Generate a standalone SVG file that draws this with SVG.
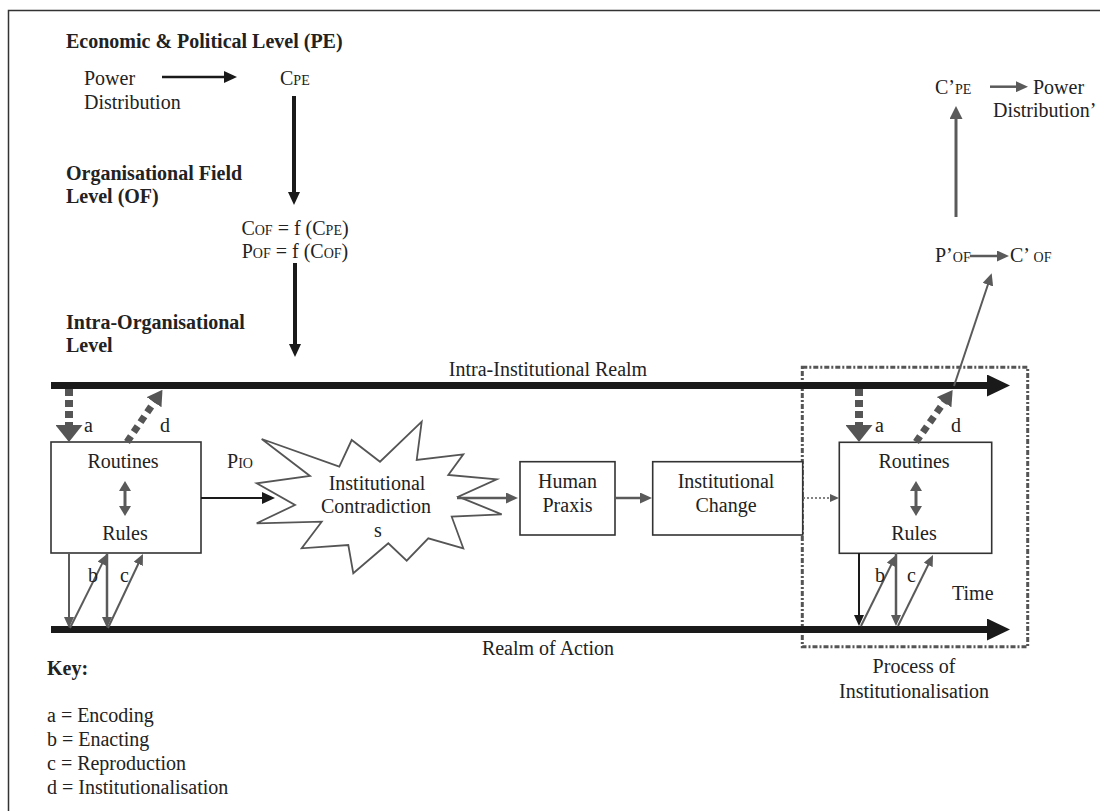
<svg xmlns="http://www.w3.org/2000/svg" width="1108" height="811" viewBox="0 0 1108 811">
<style>
text{font-family:"Liberation Serif","Times New Roman",serif;font-size:20px;fill:#222}
.b{font-weight:bold}
.m{text-anchor:middle}
.sub{font-size:14px}
.box{fill:#fff;stroke:#333;stroke-width:1.6}
.realm{stroke:#1a1a1a;stroke-width:7;fill:none}
.blk{stroke:#1a1a1a;fill:none}
.gry{stroke:#5a5a5a;fill:none}
.dash{stroke:#555;fill:none;stroke-width:8;stroke-dasharray:7 4}
.dashd{stroke:#555;fill:none;stroke-width:7;stroke-dasharray:7 5}
</style>
<defs>
<marker id="hbig" markerUnits="userSpaceOnUse" orient="auto" markerWidth="24" markerHeight="22" refX="1" refY="11"><path d="M0,0 L23,11 L0,22 z" fill="#1a1a1a"/></marker>
<marker id="hb" markerUnits="userSpaceOnUse" orient="auto" markerWidth="13" markerHeight="12" refX="1" refY="6"><path d="M0,0 L13,6 L0,12 z" fill="#1a1a1a"/></marker>
<marker id="hbs" markerUnits="userSpaceOnUse" orient="auto" markerWidth="11" markerHeight="10" refX="1" refY="5"><path d="M0,0 L11,5 L0,10 z" fill="#1a1a1a"/></marker>
<marker id="hg" markerUnits="userSpaceOnUse" orient="auto" markerWidth="12" markerHeight="11" refX="1" refY="5.5"><path d="M0,0 L12,5.5 L0,11 z" fill="#5a5a5a"/></marker>
<marker id="hgl" markerUnits="userSpaceOnUse" orient="auto" markerWidth="13" markerHeight="13" refX="1" refY="6.5"><path d="M0,0 L13,6.5 L0,13 z" fill="#5a5a5a"/></marker>
<marker id="hgs" markerUnits="userSpaceOnUse" orient="auto" markerWidth="11" markerHeight="10" refX="1" refY="5"><path d="M0,0 L11,5 L0,10 z" fill="#5a5a5a"/></marker>
<marker id="hda" markerUnits="userSpaceOnUse" orient="auto" markerWidth="17" markerHeight="27" refX="1" refY="13.5"><path d="M0,0 L17,13.5 L0,27 z" fill="#555"/></marker>
<marker id="hdd" markerUnits="userSpaceOnUse" orient="auto" markerWidth="15" markerHeight="18" refX="1" refY="9"><path d="M0,0 L15,9 L0,18 z" fill="#555"/></marker>
<marker id="hdot" markerUnits="userSpaceOnUse" orient="auto" markerWidth="9" markerHeight="8" refX="1" refY="4"><path d="M0,0 L9,4 L0,8 z" fill="#5a5a5a"/></marker>
<marker id="hdbl" markerUnits="userSpaceOnUse" orient="auto-start-reverse" markerWidth="10" markerHeight="12" refX="1" refY="6"><path d="M0,0 L10,6 L0,12 z" fill="#5a5a5a"/></marker>
</defs>
<rect width="1108" height="811" fill="#fff"/>
<path d="M8.5,811 V10.5 H1100" fill="none" stroke="#333" stroke-width="1.5"/>

<g id="levels">
<text class="b" x="66" y="48">Economic &amp; Political Level (PE)</text>
<text class="b" x="66" y="180">Organisational Field</text>
<text class="b" x="66" y="203">Level (OF)</text>
<text class="b" x="66" y="329">Intra-Organisational</text>
<text class="b" x="66" y="352">Level</text>
</g>

<g id="power-distribution">
<text x="84" y="85">Power</text>
<text x="84" y="109">Distribution</text>
</g>
<g id="c-pe"><text x="280" y="85">C<tspan class="sub">PE</tspan></text></g>
<g id="of-formulas">
<text class="m" x="295" y="235">C<tspan class="sub">OF</tspan> = f (C<tspan class="sub">PE</tspan>)</text>
<text class="m" x="295" y="258">P<tspan class="sub">OF</tspan> = f (C<tspan class="sub">OF</tspan>)</text>
</g>

<g id="process-box">
<rect x="802.3" y="367.3" width="225.4" height="279.4" fill="none" stroke="#555" stroke-width="3" stroke-dasharray="5 2 2 2"/>
<text class="m" x="914" y="673">Process of</text>
<text class="m" x="914" y="698">Institutionalisation</text>
</g>

<g id="realm-labels">
<text class="m" x="548" y="376">Intra-Institutional Realm</text>
<text class="m" x="548" y="655">Realm of Action</text>
<text x="952" y="600">Time</text>
</g>

<g id="routines-rules-left">
<rect class="box" x="51" y="442" width="150" height="111"/>
<text class="m" x="123" y="468">Routines</text>
<text class="m" x="125" y="540">Rules</text>
</g>

<g id="contradictions">
<polygon points="261.7,439 339.3,466.7 351.7,440 380,461.7 421.7,421.7 416.7,460 463.3,454.3 448.3,475 496.7,479.3 458.3,496.7 501.7,514.3 451.7,516.7 463.3,548.3 428.3,538.3 406.7,560.7 388.3,543.3 353.3,573.3 348.3,545 301.7,548.3 321.7,521.7 256.7,523.3 295,505 256.7,483.3 310,476" fill="#fff" stroke="#555" stroke-width="1.8" stroke-linejoin="miter"/>
<text class="m" x="377" y="490">Institutional</text>
<text class="m" x="376" y="513">Contradiction</text>
<text class="m" x="378" y="537">s</text>
</g>

<g id="human-praxis">
<rect class="box" x="520" y="461.7" width="95" height="73.3"/>
<text class="m" x="567.5" y="488">Human</text>
<text class="m" x="567.5" y="512">Praxis</text>
</g>

<g id="institutional-change">
<rect class="box" x="652.7" y="461.7" width="150" height="73.3"/>
<text class="m" x="726" y="488">Institutional</text>
<text class="m" x="726" y="512">Change</text>
</g>

<g id="routines-rules-right">
<rect class="box" x="839.3" y="442.3" width="152.4" height="111"/>
<text class="m" x="914" y="468">Routines</text>
<text class="m" x="914" y="540">Rules</text>
</g>

<g id="p-of-prime"><text x="935" y="262">P’<tspan class="sub">OF</tspan></text></g>
<g id="c-of-prime"><text x="1010" y="262">C’ <tspan class="sub">OF</tspan></text></g>
<g id="c-pe-prime"><text x="935" y="94">C’<tspan class="sub">PE</tspan></text></g>
<g id="power-distribution-prime">
<text x="1033" y="94">Power</text>
<text x="993" y="117">Distribution’</text>
</g>

<g id="connectors">
<path class="blk" stroke-width="2.5" d="M162,77 H225" marker-end="url(#hb)"/>
<path class="blk" stroke-width="4" d="M294,96 V193" marker-end="url(#hb)"/>
<path class="blk" stroke-width="4" d="M295,263 V345" marker-end="url(#hb)"/>
<path class="realm" d="M51,385.5 H988" marker-end="url(#hbig)"/>
<path class="realm" d="M51,629.5 H988" marker-end="url(#hbig)"/>
<path class="dash" d="M69,389 V426" marker-end="url(#hda)"/>
<path class="dashd" d="M127,442 L154.6,401.4" marker-end="url(#hdd)"/>
<path class="dash" d="M859,389 V426" marker-end="url(#hda)"/>
<path class="dashd" d="M916,442 L944.6,401.4" marker-end="url(#hdd)"/>
<path class="blk" stroke-width="2" d="M201,498 H263" marker-end="url(#hb)"/>
<path class="gry" stroke-width="2.5" d="M457,498 H507" marker-end="url(#hg)"/>
<path class="gry" stroke-width="2.5" d="M615,498 H641" marker-end="url(#hg)"/>
<path class="gry" stroke-width="1.5" stroke-dasharray="2 2" d="M803,498 H831" marker-end="url(#hdot)"/>
<path class="gry" stroke-width="3" d="M125,490 V507" marker-start="url(#hdbl)" marker-end="url(#hdbl)"/>
<path class="gry" stroke-width="3" d="M916,490 V507" marker-start="url(#hdbl)" marker-end="url(#hdbl)"/>
<path class="gry" stroke-width="2" d="M69,553 V618" marker-end="url(#hgs)"/>
<path class="gry" stroke-width="2" d="M70,628 L102.5,562.9" marker-end="url(#hgs)"/>
<path class="gry" stroke-width="2.5" d="M107,553 V618" marker-end="url(#hgs)"/>
<path class="gry" stroke-width="2" d="M108,628 L138.7,563" marker-end="url(#hgs)"/>
<path class="blk" stroke-width="2" d="M859,553 V616" marker-end="url(#hbs)"/>
<path class="gry" stroke-width="2" d="M861,626 L891.6,564" marker-end="url(#hgs)"/>
<path class="gry" stroke-width="2.5" d="M896,553 V616" marker-end="url(#hgs)"/>
<path class="gry" stroke-width="2" d="M898,626 L928.6,564" marker-end="url(#hgs)"/>
<path class="gry" stroke-width="2" d="M954,386 L988.2,283.7" marker-end="url(#hg)"/>
<path class="gry" stroke-width="3" d="M956,217 V118" marker-end="url(#hgl)"/>
<path class="gry" stroke-width="2.5" d="M990,86.7 H1017" marker-end="url(#hg)"/>
<path class="gry" stroke-width="2.5" d="M970,256 H998" marker-end="url(#hg)"/>
</g>

<g id="connector-labels">
<text x="84" y="432">a</text>
<text x="160" y="432">d</text>
<text x="227" y="468">P<tspan class="sub">IO</tspan></text>
<text x="88" y="582">b</text>
<text x="120" y="582">c</text>
<text x="875" y="432">a</text>
<text x="951" y="432">d</text>
<text x="875" y="582">b</text>
<text x="907" y="582">c</text>
</g>

<g id="key">
<text class="b" x="47" y="675">Key:</text>
<text x="47" y="722">a = Encoding</text>
<text x="47" y="746">b = Enacting</text>
<text x="47" y="770">c = Reproduction</text>
<text x="47" y="794">d = Institutionalisation</text>
</g>
</svg>
